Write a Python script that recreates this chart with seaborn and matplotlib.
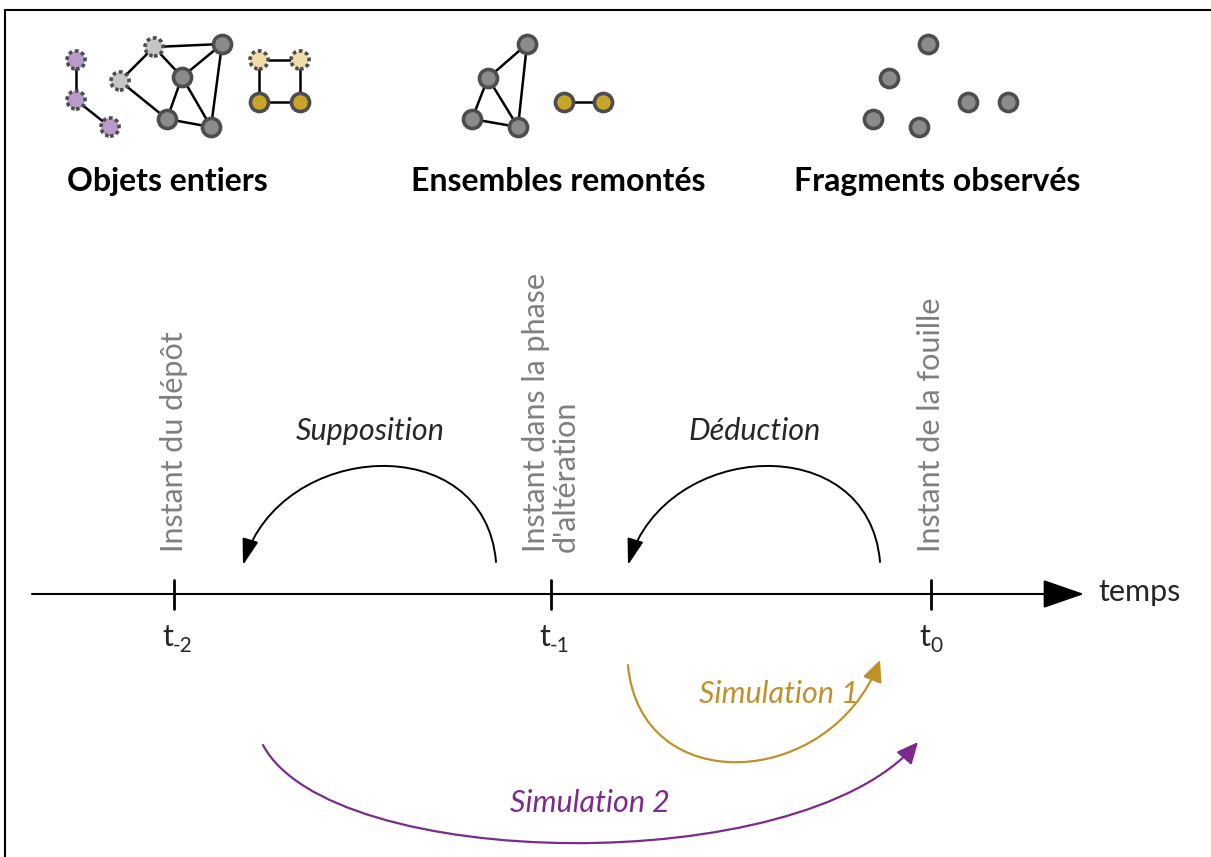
import numpy as np
import pandas as pd
import seaborn as sns
import matplotlib.pyplot as plt
from matplotlib.patches import FancyArrowPatch
from matplotlib.path import Path

# node positions of the three little graphs (pixel space, y down)
node_x = [76, 76, 110, 154, 120, 222, 182, 167, 211, 259, 300, 259, 300,
          527, 488, 472, 518, 564, 603,
          928, 889, 873, 919, 968, 1008]
node_y = [60, 100, 127, 47, 81, 44, 77, 119, 127, 60, 60, 102, 102,
          44, 78, 119, 127, 102, 102,
          44, 78, 119, 127, 102, 102]
node_kind = ["purple", "purple", "purple", "light", "light", "dark", "dark", "dark", "dark",
             "beige", "beige", "gold", "gold",
             "dark", "dark", "dark", "dark", "gold", "gold",
             "dark", "dark", "dark", "dark", "dark", "dark"]
links = [(0, 1), (1, 2), (3, 5), (3, 4), (3, 6), (4, 7), (6, 5), (6, 7), (6, 8), (5, 8), (7, 8),
         (9, 10), (9, 11), (10, 12), (11, 12),
         (13, 14), (13, 16), (14, 15), (14, 16), (15, 16), (17, 18)]

group_titles = ["Objets entiers", "Ensembles remontés", "Fragments observés"]
group_title_x = [167, 558, 937]

# timeline
tick_x = [174, 551, 931]
tick_subs = ["-2", "-1", "0"]
instant_labels = ["Instant du dépôt", "Instant dans la phase\nd'altération", "Instant de la fouille"]

fill = {"purple": "#b99bc9", "light": "#c6c7c3", "dark": "#8b8b8b",
        "beige": "#eedcab", "gold": "#c9a42a"}
dashed = {"purple": True, "light": True, "dark": False, "beige": True, "gold": False}

nodes = pd.DataFrame({"x": node_x, "y": node_y, "kind": node_kind})

sns.set_theme(style="white")
plt.rcParams["font.family"] = ["Lato", "DejaVu Sans"]

fig = plt.figure(figsize=(12.11, 8.57), dpi=100)
ax = fig.add_axes([0, 0, 1, 1])

for a, b in links:
    ax.plot([node_x[a], node_x[b]], [node_y[a], node_y[b]], color="black", lw=1.8, zorder=1)

for kind, sub in nodes.groupby("kind"):
    sns.scatterplot(data=sub, x="x", y="y", ax=ax, color=fill[kind], s=170,
                    edgecolor="#4d4d4d", linewidth=2.6, zorder=3,
                    linestyle=(0, (1.0, 0.8)) if dashed[kind] else "-")

for t, x in zip(group_titles, group_title_x):
    ax.text(x, 181, t, ha="center", va="center", fontsize=23, fontweight="bold", color="black")

# time axis
ax.annotate("", xy=(1084, 594), xytext=(32, 594),
            arrowprops=dict(arrowstyle="-|>,head_length=1.3,head_width=0.45", color="black",
                            lw=1.5, shrinkA=0, shrinkB=0, mutation_scale=20))
ax.text(1098, 592, "temps", ha="left", va="center", fontsize=22)
for x, sub, ins in zip(tick_x, tick_subs, instant_labels):
    ax.plot([x, x], [580, 609], color="black", lw=2)
    ax.text(x - 1, 646, "t", ha="right", va="baseline", fontsize=22)
    ax.text(x - 1, 652, sub, ha="left", va="baseline", fontsize=15)
    ax.text(x, 552, ins, rotation=90, ha="center", va="bottom", fontsize=22,
            color="#7f7f7f", multialignment="left", linespacing=1.05)


def arc(x0, y0, x1, y1, cx0, cy0, cx1, cy1, color, lw, head):
    p = Path([(x0, y0), (cx0, cy0), (cx1, cy1), (x1, y1)],
             [Path.MOVETO, Path.CURVE4, Path.CURVE4, Path.CURVE4])
    ax.add_patch(FancyArrowPatch(path=p, arrowstyle=head, color=color, lw=lw,
                                 mutation_scale=20))


black_head = "-|>,head_length=0.8,head_width=0.25"
arc(496, 562, 243, 565, 485, 428, 280, 440, "black", 1.4, black_head)
arc(880, 562, 628, 565, 869, 428, 665, 440, "black", 1.4, black_head)
ax.text(370, 431, "Supposition", ha="center", va="center", fontsize=22, style="italic")
ax.text(755, 431, "Déduction", ha="center", va="center", fontsize=22, style="italic")

gold_c = "#c0912b"
purple_c = "#7a2b8c"
col_head = "-|>,head_length=0.65,head_width=0.3"
arc(628, 665, 880, 660, 640, 800, 830, 790, gold_c, 1.6, col_head)
arc(263, 745, 918, 742, 330, 872, 800, 880, purple_c, 1.6, col_head)
ax.text(779, 694, "Simulation 1", ha="center", va="center", fontsize=22, style="italic", color=gold_c)
ax.text(590, 803, "Simulation 2", ha="center", va="center", fontsize=22, style="italic", color=purple_c)

# frame
ax.plot([5, 1211], [9.5, 9.5], color="black", lw=1.5)
ax.plot([5, 5], [9.5, 857], color="black", lw=1.5)

ax.set_xlim(0, 1211)
ax.set_ylim(857, 0)
ax.axis("off")
if ax.get_legend() is not None:
    ax.get_legend().remove()

fig.savefig("out.png", dpi=100)
